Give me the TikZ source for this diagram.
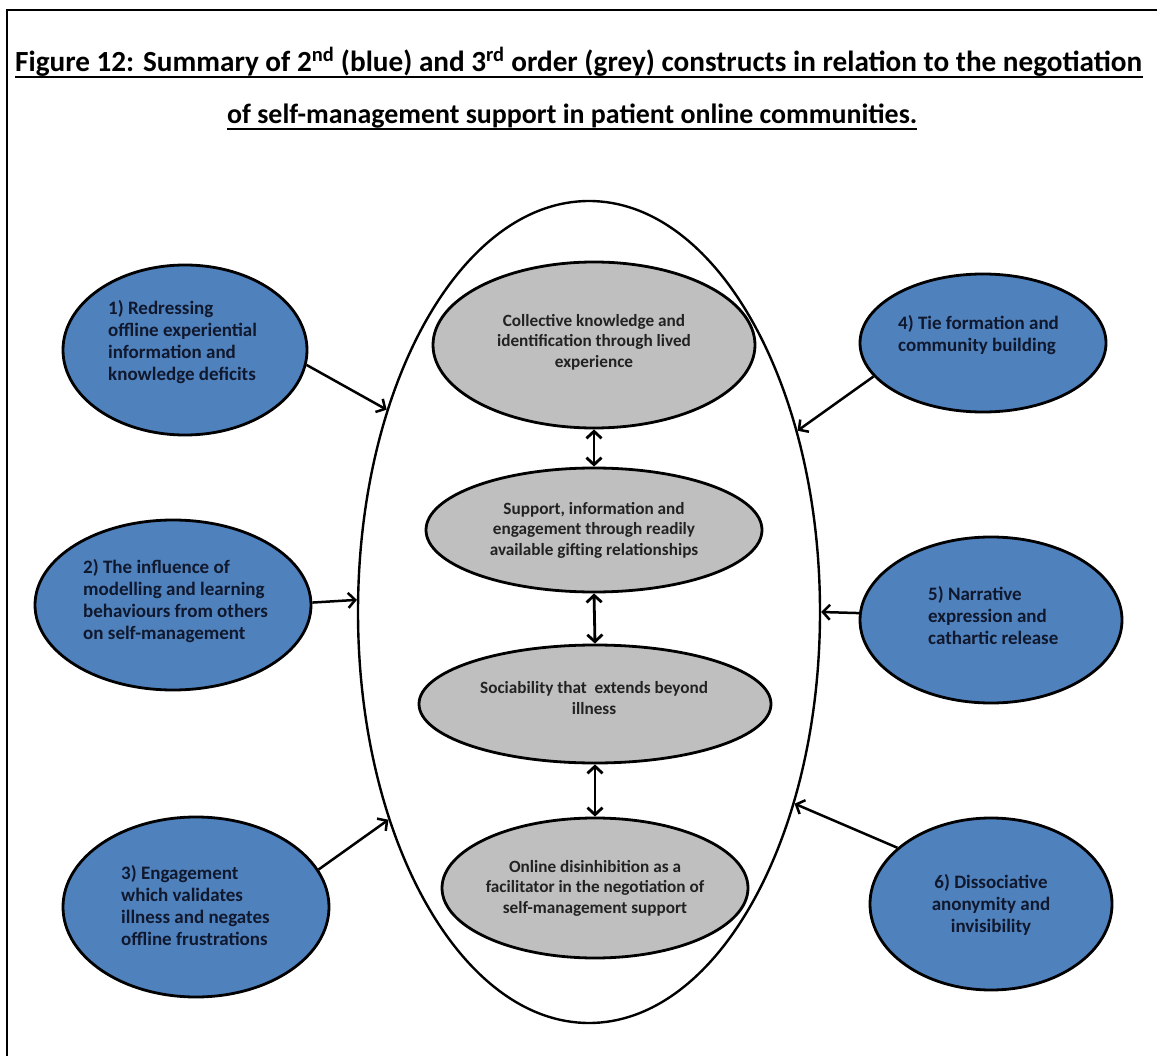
\documentclass[tikz,border=0pt]{standalone}
\usepackage{fontspec}
\setmainfont{Carlito}
\usetikzlibrary{shapes.geometric,arrows.meta}
\definecolor{bluefill}{HTML}{4F81BD}
\definecolor{greyfill}{HTML}{BFBFBF}
\definecolor{bluetext}{HTML}{10182E}
\definecolor{greytext}{HTML}{222222}
\begin{document}
\begin{tikzpicture}[x=1pt,y=-1pt,
  blueell/.style={ellipse, draw=black, line width=2.8pt, fill=bluefill, inner sep=0pt},
  greyell/.style={ellipse, draw=black, line width=2.8pt, fill=greyfill, inner sep=0pt},
  bigell/.style={ellipse, draw=black, line width=2.4pt, inner sep=0pt},
  btext/.style={font=\fontsize{19}{22}\selectfont\bfseries, text=bluetext, align=left, inner sep=0pt},
  gtext/.style={font=\fontsize{17.2}{20.5}\selectfont\bfseries, text=greytext, align=center, inner sep=0pt},
  ttext/.style={inner sep=0pt, anchor=base west},
  conn/.style={line width=2.5pt, -{Straight Barb[length=7pt,width=15pt]}},
  dconn/.style={line width=2.8pt, {Straight Barb[length=7pt,width=15pt]}-{Straight Barb[length=7pt,width=15pt]}},
]
\useasboundingbox (0,0) rectangle (1157,1056);
\fill[white] (0,0) rectangle (1157,1056);
\coordinate (fa) at (7,1056);
\coordinate (fb) at (7,10);
\coordinate (fc) at (1157,10);
\draw[line width=2pt] (fa) -- (fb) -- (fc);

% title
\node[ttext] (t1) at (15,72) {\resizebox{1127pt}{!}{\fontsize{24}{28}\selectfont\bfseries Figure 12: Summary of 2\textsuperscript{nd} (blue) and 3\textsuperscript{rd} order (grey) constructs in relation to the negotiation}};
\node[ttext] (t2) at (227,124) {\resizebox{690pt}{!}{\fontsize{24}{28}\selectfont\bfseries of self-management support in patient online communities.}};
\draw[line width=1.8pt] ([yshift=-5pt]t1.base west) -- ([yshift=-5pt]t1.base east);
\draw[line width=1.8pt] ([yshift=-5pt]t2.base west) -- ([yshift=-5pt]t2.base east);

% grey ellipses
\node[greyell, minimum width=322pt, minimum height=166pt] (g1) at (594,345) {};
\node[greyell, minimum width=336pt, minimum height=124pt] (g2) at (594,530) {};
\node[greyell, minimum width=352pt, minimum height=118pt] (g3) at (595,704) {};
\node[greyell, minimum width=306pt, minimum height=140pt] (g4) at (595,888) {};
\node[gtext] (g1t) at (594,342) {Collective knowledge and\\identification through lived\\experience};
\node[gtext] (g2t) at (594,530) {Support, information and\\engagement through readily\\available gifting relationships};
\node[gtext] (g3t) at (594,698) {Sociability that~ extends beyond\\illness};
\node[gtext] (g4t) at (595,888) {Online disinhibition as a\\facilitator in the negotiation of\\self-management support};

% big ellipse
\node[bigell, minimum width=462pt, minimum height=822pt] (big) at (589,612) {};

% blue ellipses
\node[blueell, minimum width=244pt, minimum height=170pt] (b1) at (185,350) {};
\node[blueell, minimum width=276pt, minimum height=170pt] (b2) at (173,605) {};
\node[blueell, minimum width=266pt, minimum height=180pt] (b3) at (196,907) {};
\node[blueell, minimum width=246pt, minimum height=138pt] (b4) at (983,343) {};
\node[blueell, minimum width=262pt, minimum height=166pt] (b5) at (991,620) {};
\node[blueell, minimum width=242pt, minimum height=172pt] (b6) at (991,904) {};
\node[btext, anchor=west] (b1t) at (108,342) {1) Redressing\\offline experiential\\information and\\knowledge deficits};
\node[btext, anchor=west] (b2t) at (83,601) {2) The influence of\\modelling and learning\\behaviours from others\\on self-management};
\node[btext, anchor=west] (b3t) at (121,906) {3) Engagement\\which validates\\illness and negates\\offline frustrations};
\node[btext, anchor=west] (b4t) at (898,335) {4) Tie formation and\\community building};
\node[btext, anchor=west] (b5t) at (928,616) {5) Narrative\\expression and\\cathartic release};
\node[btext, align=center] (b6t) at (991,905) {6) Dissociative\\anonymity and\\invisibility};

% connectors
\draw[conn] (b1.-7) -- (big.135.4);
\draw[conn] (b2.1) -- (big.177.5);
\draw[conn] (b3.17) -- (big.226.3);
\draw[conn] (b4.197) -- (big.41.1);
\draw[conn] (b5.177) -- (big.-0.2);
\draw[conn] (b6.149.4) -- (big.-43.1);
\draw[dconn] (g1.south) -- (g2.north);
\draw[dconn] (g2.south) -- (g3.north);
\draw[dconn] (g3.south) -- (g4.north);
\end{tikzpicture}
\end{document}
